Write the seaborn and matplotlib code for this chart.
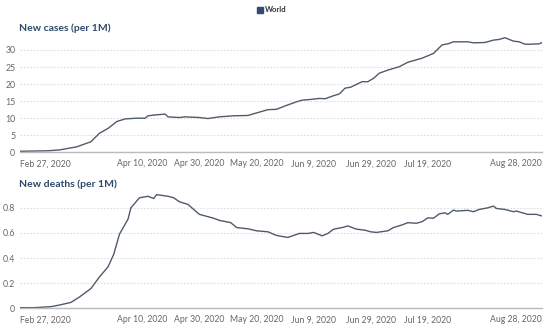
import pandas as pd
import numpy as np
import matplotlib
matplotlib.use('Agg')
import matplotlib.pyplot as plt
import seaborn as sns

# ==================================================================================
# Data (days since Feb 27, 2020)
start = pd.Timestamp('2020-02-27')

cases_days = [0, 10, 14, 20, 25, 28, 31, 34, 37, 41, 44, 45, 48, 51, 52, 56, 58, 63, 66, 70,
              75, 80, 82, 87, 90, 93, 97, 99, 102, 105, 107, 110, 112, 114, 116, 120, 122, 124,
              126, 129, 133, 136, 141, 145, 148, 150, 152, 157, 159, 163, 166, 168, 170, 173,
              175, 177, 179, 182, 183]
cases_vals = [0.3, 0.45, 0.7, 1.6, 3.1, 5.6, 7.0, 9.0, 9.8, 10.0, 10.0, 10.7, 11.0, 11.2, 10.4,
              10.2, 10.4, 10.2, 9.9, 10.4, 10.7, 10.8, 11.3, 12.5, 12.6, 13.6, 14.8, 15.3, 15.5,
              15.8, 15.7, 16.6, 17.1, 18.8, 19.1, 20.7, 20.7, 21.7, 23.2, 24.1, 25.1, 26.4, 27.6,
              29.0, 31.5, 31.8, 32.4, 32.4, 32.1, 32.2, 32.9, 33.1, 33.6, 32.6, 32.4, 31.7, 31.7,
              31.8, 32.2]

deaths_days = [0, 5, 11, 14, 18, 21, 25, 28, 31, 33, 35, 38, 39, 41, 42, 45, 47, 48, 52, 54, 56,
               59, 61, 63, 68, 70, 74, 76, 80, 83, 87, 90, 94, 98, 101, 103, 106, 108, 110, 113,
               115, 118, 121, 123, 125, 129, 131, 134, 136, 139, 141, 143, 145, 147, 149, 150,
               152, 153, 157, 159, 161, 164, 166, 167, 170, 173, 174, 178, 181, 183]
deaths_vals = [0.005, 0.005, 0.013, 0.026, 0.047, 0.09, 0.157, 0.25, 0.33, 0.43, 0.59, 0.71, 0.80,
               0.853, 0.88, 0.892, 0.874, 0.905, 0.892, 0.88, 0.848, 0.827, 0.787, 0.748, 0.717,
               0.70, 0.682, 0.643, 0.633, 0.617, 0.609, 0.58, 0.564, 0.596, 0.596, 0.604, 0.577,
               0.596, 0.63, 0.643, 0.656, 0.63, 0.622, 0.609, 0.604, 0.617, 0.643, 0.664, 0.682,
               0.677, 0.69, 0.72, 0.717, 0.752, 0.76, 0.748, 0.782, 0.774, 0.78, 0.769, 0.787,
               0.80, 0.814, 0.795, 0.787, 0.769, 0.774, 0.748, 0.748, 0.735]

tick_dates = ['2020-02-27', '2020-04-10', '2020-04-30', '2020-05-20', '2020-06-09',
              '2020-06-29', '2020-07-19', '2020-08-28']
tick_labels = ['Feb 27, 2020', 'Apr 10, 2020', 'Apr 30, 2020', 'May 20, 2020', 'Jun 9, 2020',
               'Jun 29, 2020', 'Jul 19, 2020', 'Aug 28, 2020']

cases_df = pd.DataFrame({'date': start + pd.to_timedelta(cases_days, unit='D'), 'value': cases_vals})
deaths_df = pd.DataFrame({'date': start + pd.to_timedelta(deaths_days, unit='D'), 'value': deaths_vals})

# ==================================================================================
# Plot
sns.set_style('white')
plt.rcParams['font.family'] = ['Lato', 'DejaVu Sans']

LINE = '#4f5b6b'
TITLE = '#2e4a6a'
GRID = '#dddddd'

fig = plt.figure(figsize=(5.5, 3.26), dpi=100)
ax1 = fig.add_axes([0.0355, 0.5328, 0.950, 0.3557])
ax2 = fig.add_axes([0.0355, 0.0543, 0.950, 0.3506])

panels = [(ax1, cases_df, (0, 34), [0, 5, 10, 15, 20, 25, 30],
           ['0', '5', '10', '15', '20', '25', '30']),
          (ax2, deaths_df, (0, 0.91), [0, 0.2, 0.4, 0.6, 0.8],
           ['0', '0.2', '0.4', '0.6', '0.8'])]

for ax, df, ylim, yticks, ylabels in panels:
    sns.lineplot(data=df, x='date', y='value', ax=ax, color=LINE, linewidth=1.0)
    ax.set_xlim(pd.Timestamp(tick_dates[0]), pd.Timestamp(tick_dates[-1]))
    ax.set_ylim(*ylim)
    ax.set_yticks(yticks)
    ax.set_yticklabels(ylabels)
    ax.set_xticks(pd.to_datetime(tick_dates))
    ax.set_xticklabels(tick_labels)
    labs = ax.get_xticklabels()
    labs[0].set_ha('left')
    labs[-1].set_ha('right')
    ax.set_xlabel('')
    ax.set_ylabel('')
    for s in ['top', 'right', 'left']:
        ax.spines[s].set_visible(False)
    ax.spines['bottom'].set_color('#bbbbbb')
    ax.spines['bottom'].set_linewidth(1.0)
    ax.yaxis.grid(True, color=GRID, linestyle=(0, (1.5, 1.5)), linewidth=0.8)
    ax.set_axisbelow(True)
    ax.tick_params(axis='y', length=0, pad=3, labelsize=6.3, labelcolor='#666666')
    ax.tick_params(axis='x', length=3, width=0.6, color='#bbbbbb', pad=2, labelsize=6.2,
                   labelcolor='#666666')

fig.text(19 / 550, 1 - 28 / 326, 'New cases (per 1M)', fontsize=7.5, fontweight='bold',
         color=TITLE, va='center', ha='left')
fig.text(19 / 550, 1 - 184 / 326, 'New deaths (per 1M)', fontsize=7.5, fontweight='bold',
         color=TITLE, va='center', ha='left')

# legend
fig.patches.append(plt.Rectangle((257 / 550, 1 - 13 / 326), 6 / 550, 6 / 326,
                                 transform=fig.transFigure, color='#2f4b6e'))
fig.text(265 / 550, 1 - 10 / 326, 'World', fontsize=5.5, fontweight='bold', color='#333333',
         va='center', ha='left')

fig.savefig('out.png', dpi=100)
